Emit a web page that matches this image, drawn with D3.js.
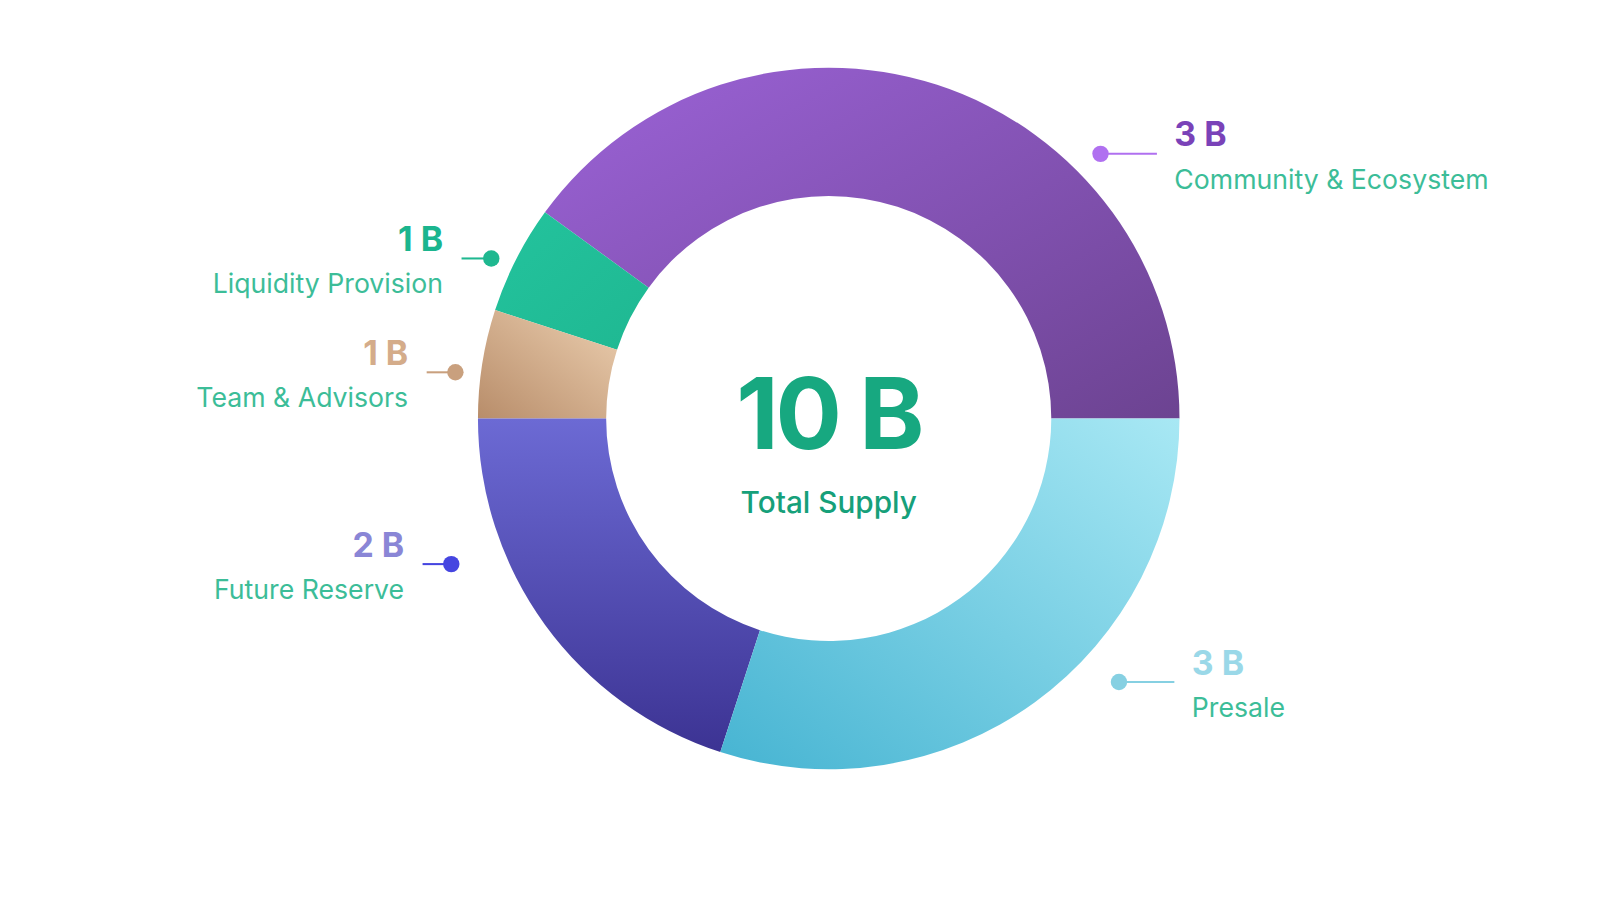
<!DOCTYPE html>
<html><head><meta charset="utf-8">
<script src="https://cdn.jsdelivr.net/npm/d3@7"></script>
<style>body{margin:0;background:#fff}svg{display:block;font-family:Inter,"Noto Sans",sans-serif}</style>
</head><body>
<svg id="c" width="1600" height="900" viewBox="0 0 1560 877.5"></svg>
<script>
const categories = ["Community & Ecosystem","Liquidity Provision","Team & Advisors","Future Reserve","Presale"];
const valueLabels = ["3 B","1 B","1 B","2 B","3 B"];
const angleShares = [40,5,5,20,30];   // visual share of the ring as drawn
const totalLabel = "10 B", totalSub = "Total Supply";
const gradStops = [["#9c63d8","#6c4391"],["#23c39d","#1fb892"],["#eccfb0","#b88d6a"],["#6c6ad4","#3c3393"],["#a8e8f4","#46b4d2"]];
const gradDir = [[0,0,1,1],[0,0,1,1],[1,0,0,1],[0,0,0,1],[1,0,0,1]];
const dotColors = ["#b070f0","#1fb890","#c9a07e","#4545e0","#86d0e2"];
const valColors = ["#7a42b8","#1bb58e","#d4ac8a","#8a86d6","#9ad8e8"];
const nameColor = "#3cbd98";
const lab = [
 {dx:1073,dy:150,lx:1128,tx:1145,anchor:"start",vy:131,ny:175},
 {dx:479,dy:252,lx:450,tx:432,anchor:"end",vy:234,ny:277},
 {dx:444,dy:363,lx:416,tx:398,anchor:"end",vy:345,ny:388},
 {dx:440,dy:550,lx:412,tx:394,anchor:"end",vy:532,ny:575},
 {dx:1091,dy:665,lx:1145,tx:1162,anchor:"start",vy:647,ny:690}
];
const svg = d3.select("#c");
const defs = svg.append("defs");
defs.append("clipPath").attr("id","clip").append("rect").attr("x",0).attr("y",0).attr("width",1463).attr("height",900);
gradStops.forEach((s,i)=>{
  const g=defs.append("linearGradient").attr("id","g"+i)
   .attr("x1",gradDir[i][0]).attr("y1",gradDir[i][1]).attr("x2",gradDir[i][2]).attr("y2",gradDir[i][3]);
  g.append("stop").attr("offset","0%").attr("stop-color",s[0]);
  g.append("stop").attr("offset","100%").attr("stop-color",s[1]);
});
const cx=808, cy=408;
const pie=d3.pie().sort(null).startAngle(Math.PI/2).endAngle(Math.PI/2-2*Math.PI).value(d=>d);
const arc=d3.arc().innerRadius(217).outerRadius(342);
const g=svg.append("g").attr("transform",`translate(${cx},${cy})`);
g.selectAll("path").data(pie(angleShares)).join("path").attr("d",arc).attr("fill",(d,i)=>`url(#g${i})`);
g.append("text").attr("text-anchor","middle").attr("y",30).attr("font-size",96).attr("font-weight",700)
 .attr("fill","#17a880").attr("letter-spacing",-3).text(totalLabel);
g.append("text").attr("text-anchor","middle").attr("y",92).attr("font-size",29).attr("font-weight",500)
 .attr("fill","#16a07a").text(totalSub);
const L=svg.append("g").attr("clip-path","url(#clip)");
lab.forEach((p,i)=>{
  L.append("line").attr("x1",p.dx).attr("y1",p.dy).attr("x2",p.lx).attr("y2",p.dy).attr("stroke",dotColors[i]).attr("stroke-width",2);
  L.append("circle").attr("cx",p.dx).attr("cy",p.dy).attr("r",8).attr("fill",dotColors[i]);
  L.append("text").attr("x",p.tx).attr("y",p.vy+11).attr("text-anchor",p.anchor).attr("font-size",33).attr("font-weight",700)
   .attr("fill",valColors[i]).text(valueLabels[i]);
  L.append("text").attr("x",p.tx).attr("y",p.ny+9).attr("text-anchor",p.anchor).attr("font-size",26)
   .attr("fill",nameColor).text(categories[i]);
});
</script></body></html>
